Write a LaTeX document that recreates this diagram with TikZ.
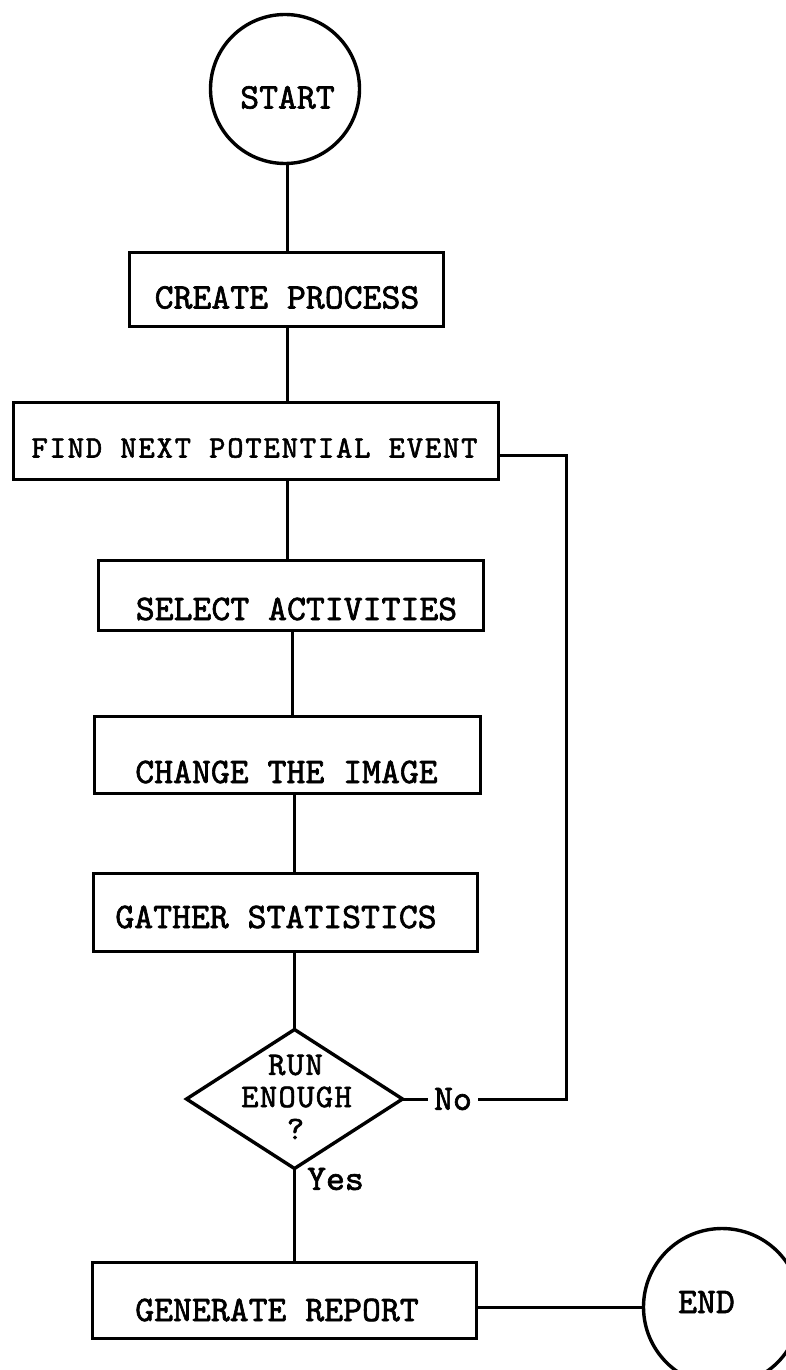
\documentclass[tikz,border=0pt]{standalone}
\usepackage{fontspec}
\usetikzlibrary{shapes.geometric}
% typewriter face used for every label
\newfontfamily\typefont[FakeBold=1.8]{lmmono10-regular.otf}
\newfontfamily\typefindfont[FakeBold=1.8,LetterSpace=6]{lmmono10-regular.otf}
\newfontfamily\typedecfont[FakeBold=1.8,LetterSpace=4]{lmmono10-regular.otf}

\begin{document}
\begin{tikzpicture}[x=1pt,y=-1pt,
  outline/.style={draw=black, line width=3.4pt, inner sep=0pt, outer sep=0pt},
  terminal/.style={outline, circle},
  stepbox/.style={outline, rectangle},
  decision/.style={outline, diamond, minimum width=216pt, minimum height=139pt},
  txt/.style={inner sep=0pt, font=\typefont\fontsize{36}{32}\selectfont},
  findtxt/.style={inner sep=0pt, font=\typefindfont\fontsize{31}{32}\selectfont},
  dectxt/.style={inner sep=0pt, font=\typedecfont\fontsize{33}{32}\selectfont},
  link/.style={draw=black, line width=3pt}]

\useasboundingbox (0,0) rectangle (786,1370);

% shapes
\node[terminal, minimum size=149pt] (start) at (285,89) {};
\node[stepbox, minimum width=314pt, minimum height=74pt] (create) at (286.5,289.5) {};
\node[stepbox, minimum width=485pt, minimum height=77pt] (find) at (256,441) {};
\node[stepbox, minimum width=385pt, minimum height=70pt] (select) at (291,595.5) {};
\node[stepbox, minimum width=386pt, minimum height=77pt] (change) at (287.5,755) {};
\node[stepbox, minimum width=384pt, minimum height=78pt] (gather) at (285.5,912.5) {};
\node[decision] (dia) at (294.5,1099) {};
\node[stepbox, minimum width=384pt, minimum height=76pt] (generate) at (284.5,1300.5) {};
\node[terminal, minimum size=157pt] (end) at (722,1307) {};

% labels
\node[txt] (start-t) at (287.5,97.5) {START};
\node[txt] (create-t) at (287,297.5) {CREATE PROCESS};
\node[findtxt] (find-t) at (254.5,448) {FIND NEXT POTENTIAL EVENT};
\node[txt] (select-t) at (296.5,609) {SELECT ACTIVITIES};
\node[txt] (change-t) at (286.5,772) {CHANGE THE IMAGE};
\node[txt] (gather-t) at (276,917) {GATHER STATISTICS};
\node[dectxt] (dia-t1) at (295.5,1065) {RUN};
\node[dectxt] (dia-t2) at (296.5,1097) {ENOUGH};
\node[dectxt] (dia-t3) at (295.5,1129) {?};
\node[txt] (generate-t) at (277,1310) {GENERATE REPORT};
\node[txt] (end-t) at (706.5,1302) {END};
\node[txt] (yes) at (335.5,1179) {Yes};
\node[txt, inner xsep=6pt] (no) at (453,1099) {No};

% main flow
\coordinate (s1) at (287,0);
\coordinate (s2) at (292,0);
\coordinate (s3) at (294,0);
\draw[link] (start.south -| s1) -- (create.north -| s1);
\draw[link] (create.south -| s1) -- (find.north -| s1);
\draw[link] (find.south -| s1) -- (select.north -| s1);
\draw[link] (select.south -| s2) -- (change.north -| s2);
\draw[link] (change.south -| s3) -- (gather.north -| s3);
\draw[link] (gather.south -| dia.north) -- (dia.north);
\draw[link] (dia.south) -- (dia.south |- generate.north);
\draw[link] (end.west -| generate.east) -- (end.west);

% loop back on "No"
\coordinate (loop) at (566,455);
\draw[link] (dia.east) -- (no.west);
\draw[link] (no.east) -- (no.east -| loop) -- (loop) -- (loop -| find.east);
\end{tikzpicture}
\end{document}
